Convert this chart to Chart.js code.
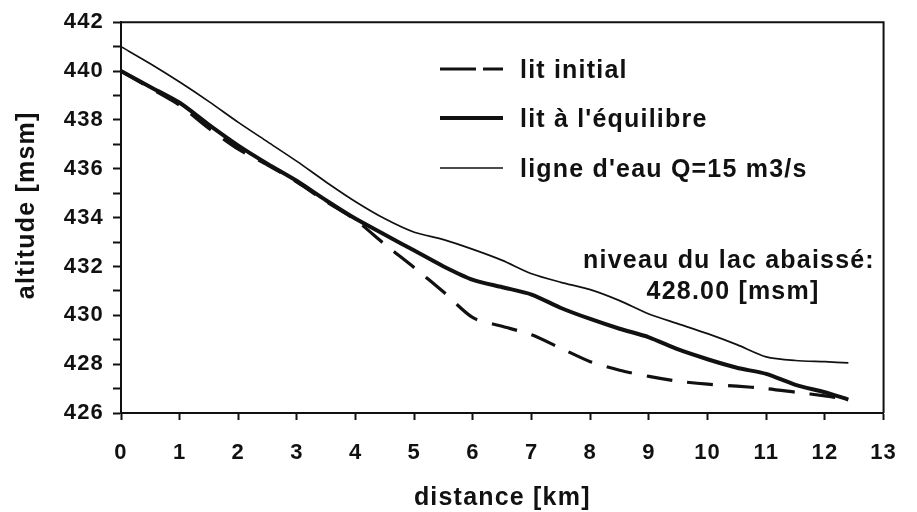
<!DOCTYPE html>
<html>
<head>
<meta charset="utf-8">
<script src="https://cdn.jsdelivr.net/npm/chart.js@4"></script>
<style>
  body { margin: 0; background: #fff; }
  #wrap { width: 917px; height: 512px; }
</style>
</head>
<body>
<div id="wrap"><canvas id="graphique" width="917" height="512"></canvas></div>
<script>
  // valeurs
  const distance = [0, 0.5, 1, 1.5, 2, 2.5, 3, 3.5, 4, 4.5, 5, 5.5, 6, 6.5, 7, 7.5, 8, 8.5, 9, 9.5, 10, 10.5, 11, 11.5, 12, 12.4];
  const litInitial = [440.0, 439.3, 438.6, 437.65, 436.8, 436.15, 435.45, 434.65, 433.9, 432.9, 431.95, 430.95, 429.9, 429.55, 429.2, 428.65, 428.1, 427.75, 427.5, 427.3, 427.18, 427.1, 427.0, 426.85, 426.7, 426.55];
  const litEquilibre = [440.0, 439.35, 438.7, 437.8, 436.95, 436.2, 435.5, 434.7, 433.95, 433.3, 432.65, 432.0, 431.45, 431.15, 430.85, 430.3, 429.85, 429.45, 429.1, 428.6, 428.2, 427.85, 427.6, 427.15, 426.85, 426.55];
  const ligneEau = [441.0, 440.3, 439.55, 438.75, 437.9, 437.1, 436.3, 435.45, 434.65, 433.95, 433.4, 433.1, 432.7, 432.25, 431.7, 431.35, 431.05, 430.6, 430.05, 429.65, 429.25, 428.8, 428.3, 428.15, 428.1, 428.05];

  const xTicks = [0, 1, 2, 3, 4, 5, 6, 7, 8, 9, 10, 11, 12, 13];
  const yMajor = [426, 428, 430, 432, 434, 436, 438, 440, 442];
  const yMinor = [427, 429, 431, 433, 435, 437, 439, 441];

  const noir = '#111';
  const police = "'Liberation Sans', Arial, sans-serif";

  function points(valeurs) {
    return distance.map((d, i) => ({ x: d, y: valeurs[i] }));
  }

  // espacement des lettres (le texte du scan est plus large)
  const espacement = {
    id: 'espacement',
    beforeLayout(chart) { chart.ctx.letterSpacing = '1.2px'; },
    beforeDraw(chart) { chart.ctx.letterSpacing = '1.2px'; }
  };

  // cadre, légende et annotation
  const habillage = {
    id: 'habillage',
    afterDraw(chart) {
      const ctx = chart.ctx;
      const a = chart.chartArea;
      ctx.save();
      ctx.strokeStyle = noir;
      ctx.lineWidth = 2;
      ctx.beginPath();
      ctx.moveTo(a.left, a.top);
      ctx.lineTo(a.right, a.top);
      ctx.lineTo(a.right, a.bottom);
      ctx.stroke();

      const lignes = [
        { texte: 'lit initial', y: 69, largeur: 3.2, tirets: [36, 7] },
        { texte: "lit à l'équilibre", y: 118, largeur: 4, tirets: [] },
        { texte: "ligne d'eau Q=15 m3/s", y: 168, largeur: 1.7, tirets: [] }
      ];
      ctx.letterSpacing = '1.2px';
      ctx.font = 'bold 25px ' + police;
      ctx.fillStyle = noir;
      ctx.textBaseline = 'alphabetic';
      lignes.forEach(l => {
        ctx.beginPath();
        ctx.setLineDash(l.tirets);
        ctx.lineWidth = l.largeur;
        ctx.moveTo(440, l.y);
        ctx.lineTo(503, l.y);
        ctx.stroke();
        ctx.setLineDash([]);
        ctx.textAlign = 'left';
        ctx.fillText(l.texte, 520, l.y + 9);
      });

      ctx.textAlign = 'center';
      ctx.fillText('niveau du lac abaissé:', 729, 268);
      ctx.fillText('428.00 [msm]', 733, 299);
      ctx.restore();
    }
  };

  const ctx = document.getElementById('graphique').getContext('2d');

  new Chart(ctx, {
    type: 'line',
    data: {
      datasets: [
        {
          label: 'lit initial',
          data: points(litInitial),
          borderColor: noir,
          borderWidth: 3.2,
          borderDash: [26, 15],
          pointRadius: 0,
          tension: 0.25
        },
        {
          label: "lit à l'équilibre",
          data: points(litEquilibre),
          borderColor: noir,
          borderWidth: 4,
          pointRadius: 0,
          tension: 0.25
        },
        {
          label: "ligne d'eau Q=15 m3/s",
          data: points(ligneEau),
          borderColor: noir,
          borderWidth: 1.7,
          pointRadius: 0,
          tension: 0.25
        }
      ]
    },
    options: {
      responsive: false,
      animation: false,
      layout: { padding: { left: 0, top: 21, right: 29, bottom: 0 } },
      plugins: { legend: { display: false }, tooltip: { enabled: false } },
      scales: {
        x: {
          type: 'linear',
          min: 0,
          max: 13,
          afterBuildTicks: s => { s.ticks = xTicks.map(v => ({ value: v })); },
          afterFit: s => { s.height = 99; },
          ticks: {
            autoSkip: false,
            maxRotation: 0,
            padding: 20,
            color: noir,
            font: { family: police, size: 22, weight: 'bold' }
          },
          grid: { drawOnChartArea: false, tickLength: 7, tickWidth: 2, tickColor: noir },
          border: { display: true, width: 2, color: noir },
          title: {
            display: true,
            text: 'distance [km]',
            color: noir,
            padding: { top: 0, bottom: -1 },
            font: { family: police, size: 25, weight: 'bold' }
          }
        },
        y: {
          type: 'linear',
          min: 426,
          max: 442,
          afterBuildTicks: s => {
            s.ticks = yMajor.concat(yMinor).sort((a, b) => a - b).map(v => ({ value: v }));
          },
          afterFit: s => { s.width = 121; },
          ticks: {
            autoSkip: false,
            padding: 9,
            color: noir,
            callback: v => yMajor.includes(v) ? String(v) : '',
            font: { family: police, size: 22, weight: 'bold' }
          },
          grid: { drawOnChartArea: false, tickLength: 8, tickWidth: 2, tickColor: noir },
          border: { display: true, width: 2, color: noir },
          title: {
            display: true,
            text: '   altitude [msm]',
            color: noir,
            padding: { top: 12, bottom: 0 },
            font: { family: police, size: 25, weight: 'bold' }
          }
        }
      }
    },
    plugins: [espacement, habillage]
  });
</script>
</body>
</html>
